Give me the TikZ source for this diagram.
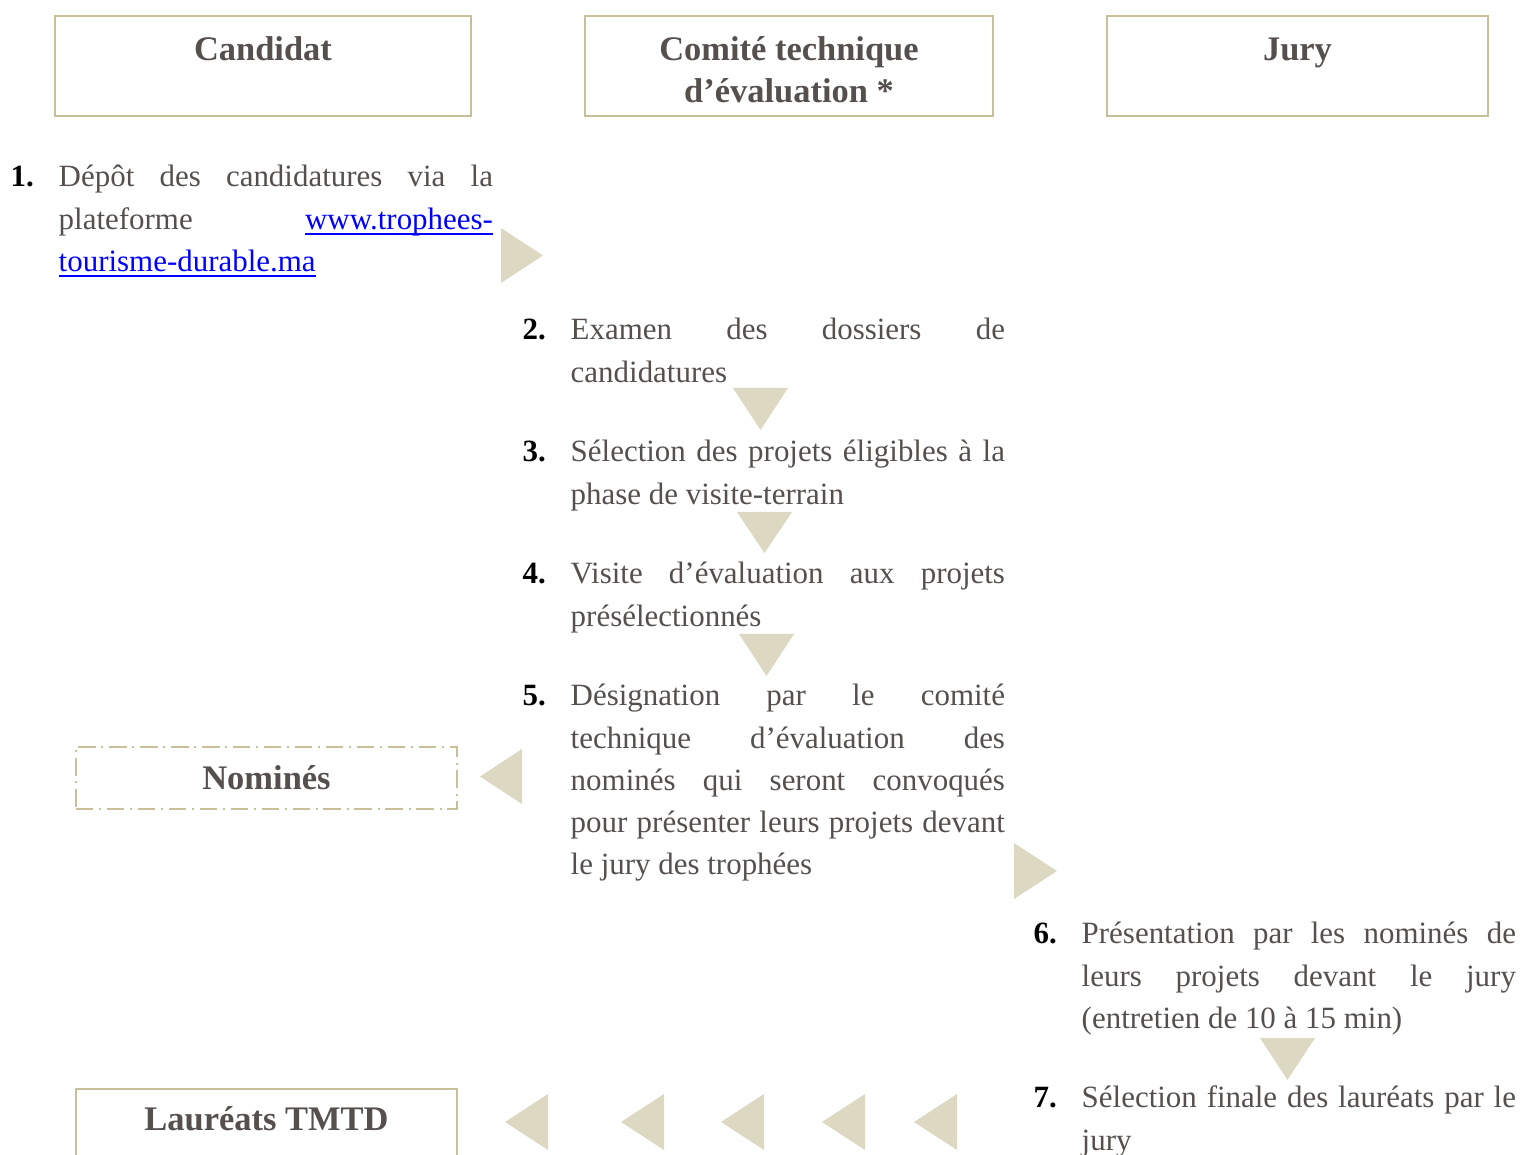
\documentclass[tikz,border=0pt]{standalone}
\usepackage{fontspec}
\setmainfont{Liberation Serif}
\definecolor{ink}{RGB}{85, 80, 77}
\definecolor{frame}{RGB}{200, 192, 152}
\definecolor{sand}{RGB}{221, 216, 194}
\definecolor{weblink}{RGB}{0, 0, 255}
\usetikzlibrary{positioning}
\tolerance=10000
\hbadness=10000
\newcommand\headfont{\fontsize{9.8pt}{11.95pt}\selectfont\bfseries}
\newcommand\stepfont{\fontsize{8.8pt}{11.95pt}\selectfont}
\newcommand\lnk[1]{{\color{weblink}\setbox0\hbox{#1}\rlap{\rule[-1.7pt]{\wd0}{0.55pt}}\box0}}
\newcommand\stepno[1]{\global\hangindent=0.48cm\global\hangafter=1\makebox[0.48cm][l]{\color{black}\bfseries #1}}
\tikzset{
  head/.style={draw=frame, line width=0.6pt, inner sep=0, anchor=north,
    text width=#1, align=flush center, text height=0.44cm, text depth=0.56cm,
    font=\headfont, text=ink},
  tag/.style={head=3.81cm, text height=0.42cm, text depth=0.2cm,
    dash pattern=on 5pt off 1.6pt on 0.6pt off 1.6pt},
  stepbox/.style={anchor=base west, inner sep=0, text width=4.82cm,
    align=justify, font=\stepfont, text=ink},
  pointer/.style={fill=sand}
}

\begin{document}
\begin{tikzpicture}[x=0.01cm, y=-0.01cm]
\useasboundingbox (0,0) rectangle (1520,1155);
\clip (0,0) rectangle (1520,1155);

\node[head=4.16cm] (candidat) at (263,15) {Candidat};
\node[head=4.08cm] (comite) at (789,15) {Comité technique\\d’évaluation *};
\node[head=3.81cm] (jury) at (1297.5,15) {Jury};

\node[stepbox] (step1) at (10,187) {\stepno{1.}Dépôt des candidatures via la\linebreak
  plateforme \lnk{www.trophees-}\linebreak \lnk{tourisme-durable.ma}};
\node[stepbox] (step2) at (522,340) {\stepno{2.}Examen des dossiers de\linebreak candidatures};
\node[stepbox] (step3) at (522,462) {\stepno{3.}Sélection des projets éligibles à la\linebreak
  phase de visite-terrain};
\node[stepbox] (step4) at (522,584) {\stepno{4.}Visite d’évaluation aux projets\linebreak présélectionnés};
\node[stepbox] (step5) at (522,706) {\stepno{5.}Désignation par le comité\linebreak
  technique d’évaluation des\linebreak nominés qui seront convoqués\linebreak
  pour présenter leurs projets devant\linebreak le jury des trophées};
\node[stepbox] (step6) at (1033,944) {\stepno{6.}Présentation par les nominés de\linebreak
  leurs projets devant le jury\linebreak (entretien de 10 à 15 min)};
\node[stepbox] (step7) at (1033,1108) {\stepno{7.}Sélection finale des lauréats par le\linebreak jury};

\node[tag] (nomines) at (266.5,746) {Nominés};
\node[head=3.81cm, text height=0.41cm, text depth=0.8cm] (laureats) at (266.5,1088) {Lauréats TMTD};

\fill[pointer] (501,228) -- (543,255.5) -- (501,283) -- cycle;
\fill[pointer] (733,388) -- (788,388) -- (760.5,430) -- cycle;
\fill[pointer] (737,512) -- (792,512) -- (764.5,553) -- cycle;
\fill[pointer] (739,634) -- (794,634) -- (766.5,676) -- cycle;
\fill[pointer] (522,749) -- (480,776.5) -- (522,804) -- cycle;
\fill[pointer] (1014,843) -- (1057,871) -- (1014,899) -- cycle;
\fill[pointer] (1260,1038) -- (1315,1038) -- (1287.5,1080) -- cycle;
\foreach \x in {505,621,721,822,914}
  \fill[pointer] (\x,1122) -- ++(43,-28) -- ++(0,56) -- cycle;
\end{tikzpicture}
\end{document}
